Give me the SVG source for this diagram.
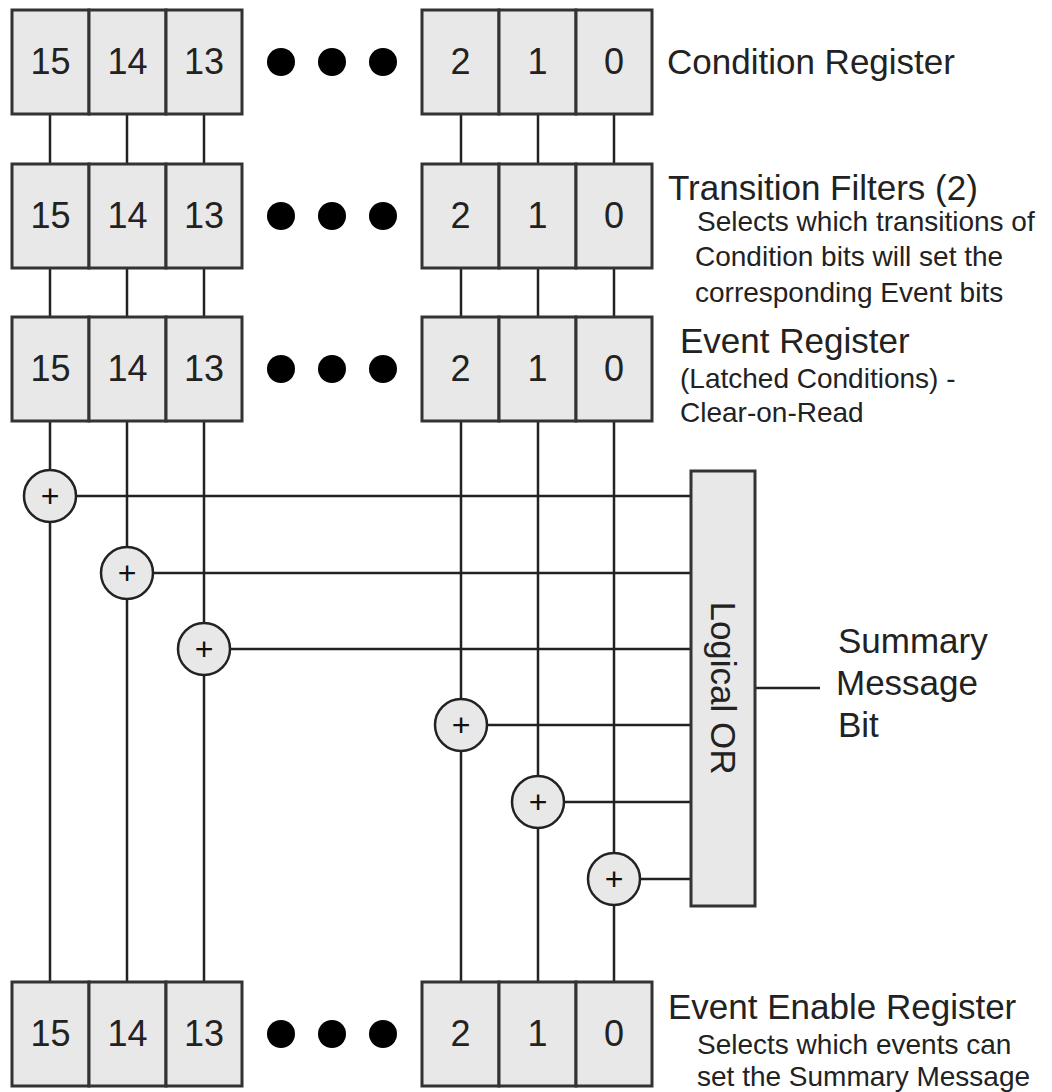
<svg xmlns="http://www.w3.org/2000/svg" width="1052" height="1092" viewBox="0 0 1052 1092">
<style>
.cell{fill:#e8e8e8;stroke:#333;stroke-width:3}
.num{font-family:"Liberation Sans",Arial,sans-serif;font-size:36px;fill:#222;text-anchor:middle}
.dot{fill:#000}
.wire{stroke:#222;stroke-width:2.5;fill:none}
.sum{fill:#e8e8e8;stroke:#222;stroke-width:2.5}
.plus{font-family:"Liberation Sans",Arial,sans-serif;font-size:32px;fill:#111;text-anchor:middle}
.h{font-family:"Liberation Sans",Arial,sans-serif;font-size:35px;fill:#222}
.s{font-family:"Liberation Sans",Arial,sans-serif;font-size:28px;fill:#222}
</style>
<rect width="1052" height="1092" fill="#fff"/>
<defs>
<g id="regL">
<rect class="cell" x="12" y="0" width="77" height="104"/>
<rect class="cell" x="89" y="0" width="77" height="104"/>
<rect class="cell" x="166" y="0" width="76" height="104"/>
<text class="num" x="50.5" y="64">15</text>
<text class="num" x="127.5" y="64">14</text>
<text class="num" x="204" y="64">13</text>
<circle class="dot" cx="281" cy="52" r="14"/>
<circle class="dot" cx="332" cy="52" r="14"/>
<circle class="dot" cx="383" cy="52" r="14"/>
<rect class="cell" x="422" y="0" width="77" height="104"/>
<rect class="cell" x="499" y="0" width="77" height="104"/>
<rect class="cell" x="576" y="0" width="76" height="104"/>
<text class="num" x="460.5" y="64">2</text>
<text class="num" x="537.5" y="64">1</text>
<text class="num" x="614" y="64">0</text>
</g>
</defs>
<g id="connectors">
<line class="wire" x1="50" y1="114" x2="50" y2="164"/>
<line class="wire" x1="127" y1="114" x2="127" y2="164"/>
<line class="wire" x1="204" y1="114" x2="204" y2="164"/>
<line class="wire" x1="461" y1="114" x2="461" y2="164"/>
<line class="wire" x1="538" y1="114" x2="538" y2="164"/>
<line class="wire" x1="614" y1="114" x2="614" y2="164"/>
<line class="wire" x1="50" y1="268" x2="50" y2="317"/>
<line class="wire" x1="127" y1="268" x2="127" y2="317"/>
<line class="wire" x1="204" y1="268" x2="204" y2="317"/>
<line class="wire" x1="461" y1="268" x2="461" y2="317"/>
<line class="wire" x1="538" y1="268" x2="538" y2="317"/>
<line class="wire" x1="614" y1="268" x2="614" y2="317"/>
<line class="wire" x1="50" y1="421" x2="50" y2="983"/>
<line class="wire" x1="127" y1="421" x2="127" y2="983"/>
<line class="wire" x1="204" y1="421" x2="204" y2="983"/>
<line class="wire" x1="461" y1="421" x2="461" y2="983"/>
<line class="wire" x1="538" y1="421" x2="538" y2="983"/>
<line class="wire" x1="614" y1="421" x2="614" y2="983"/>
<line class="wire" x1="76" y1="496" x2="691" y2="496"/>
<line class="wire" x1="153" y1="573" x2="691" y2="573"/>
<line class="wire" x1="230" y1="649" x2="691" y2="649"/>
<line class="wire" x1="487" y1="725" x2="691" y2="725"/>
<line class="wire" x1="564" y1="802" x2="691" y2="802"/>
<line class="wire" x1="640" y1="879" x2="691" y2="879"/>
<line class="wire" x1="755" y1="688" x2="820" y2="688"/>
</g>
<g id="condition-register">
<use href="#regL" y="10"/>
<text class="h" x="667" y="74">Condition Register</text>
</g>
<g id="transition-filters">
<use href="#regL" y="164"/>
<text class="h" x="668" y="200">Transition Filters (2)</text>
<text class="s" x="697" y="231">Selects which transitions of</text>
<text class="s" x="695" y="266">Condition bits will set the</text>
<text class="s" x="695" y="302">corresponding Event bits</text>
</g>
<g id="event-register">
<use href="#regL" y="317"/>
<text class="h" x="680" y="353">Event Register</text>
<text class="s" x="680" y="388">(Latched Conditions) -</text>
<text class="s" x="680" y="422">Clear-on-Read</text>
</g>
<g id="event-enable-register">
<use href="#regL" y="982"/>
<text class="h" x="668" y="1019">Event Enable Register</text>
<text class="s" x="697" y="1054">Selects which events can</text>
<text class="s" x="697" y="1086">set the Summary Message</text>
</g>
<g id="and15"><circle class="sum" cx="50" cy="496" r="26"/><text class="plus" x="50" y="507">+</text></g>
<g id="and14"><circle class="sum" cx="127" cy="573" r="26"/><text class="plus" x="127" y="584">+</text></g>
<g id="and13"><circle class="sum" cx="204" cy="649" r="26"/><text class="plus" x="204" y="660">+</text></g>
<g id="and2"><circle class="sum" cx="461" cy="725" r="26"/><text class="plus" x="461" y="736">+</text></g>
<g id="and1"><circle class="sum" cx="538" cy="802" r="26"/><text class="plus" x="538" y="813">+</text></g>
<g id="and0"><circle class="sum" cx="614" cy="879" r="26"/><text class="plus" x="614" y="890">+</text></g>
<g id="logical-or">
<rect class="cell" x="691" y="471" width="64" height="435"/>
<text class="h" x="723" y="700.5" text-anchor="middle" transform="rotate(90 723 688)">Logical OR</text>
</g>
<g id="summary-bit">
<text class="h" x="838" y="653">Summary</text>
<text class="h" x="836" y="695">Message</text>
<text class="h" x="838" y="737">Bit</text>
</g>
</svg>
